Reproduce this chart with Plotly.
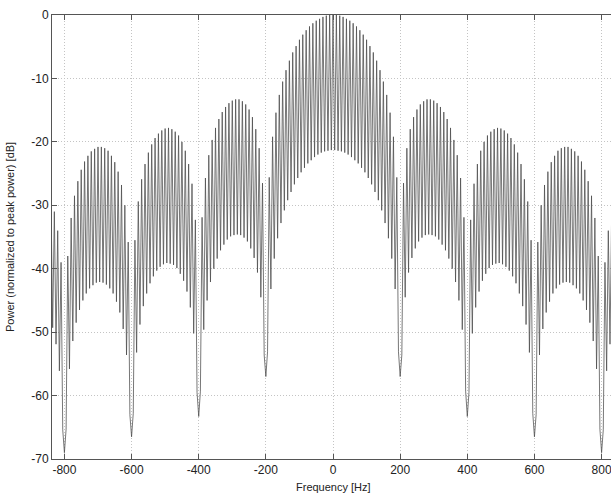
import plotly.graph_objects as go
import pandas as pd

# Peak samples (every 10 Hz, -840 ... 830 Hz), power in dB
peak_db_left = [
    -29.0, -31.0, -34.0, -39.0, -69.0, -38.0, -32.0, -28.5, -26.2, -24.4,
    -23.1, -22.2, -21.5, -21.1, -20.8, -20.8, -21.0, -21.4, -22.2, -23.2,
    -24.7, -26.8, -30.0, -35.8, -66.5, -35.5, -29.4, -25.9, -23.5, -21.7,
    -20.4, -19.4, -18.7, -18.2, -17.9, -17.8, -18.0, -18.4, -19.0, -20.0,
    -21.4, -23.5, -26.6, -32.3, -63.3, -31.9, -25.7, -22.1, -19.7, -17.8,
    -16.4, -15.3, -14.5, -13.9, -13.5, -13.3, -13.3, -13.6, -14.1, -14.9,
    -16.1, -18.0, -21.0, -26.5, -57.0, -25.6, -19.2, -15.4, -12.6, -10.5,
    -8.7, -7.2, -5.9, -4.9, -3.9, -3.1, -2.4, -1.8, -1.3, -0.9,
    -0.6, -0.3, -0.1, -0.0,
]
peak_db_center = [0.0]
peak_db_right = [
    -0.0, -0.1, -0.3, -0.6, -0.9, -1.3, -1.8, -2.4, -3.1, -3.9,
    -4.9, -5.9, -7.2, -8.7, -10.5, -12.6, -15.4, -19.2, -25.6, -57.0,
    -26.5, -21.0, -18.0, -16.1, -14.9, -14.1, -13.6, -13.3, -13.3, -13.5,
    -13.9, -14.5, -15.3, -16.4, -17.8, -19.7, -22.1, -25.7, -31.9, -63.3,
    -32.3, -26.6, -23.5, -21.4, -20.0, -19.0, -18.4, -18.0, -17.8, -17.9,
    -18.2, -18.7, -19.4, -20.4, -21.7, -23.5, -25.9, -29.4, -35.5, -66.5,
    -35.8, -30.0, -26.8, -24.7, -23.2, -22.2, -21.4, -21.0, -20.8, -20.8,
    -21.1, -21.5, -22.2, -23.1, -24.4, -26.2, -28.5, -32.0, -38.0, -69.0,
    -39.0, -34.0, -31.0,
]

# Trough samples (every 10 Hz, -835 ... 825 Hz)
trough_db_left = [
    -49.3, -51.9, -56.1, -65.4, -65.3, -55.8, -51.4, -48.5, -46.5, -45.0,
    -43.9, -43.1, -42.6, -42.2, -42.1, -42.2, -42.5, -43.1, -43.9, -45.2,
    -46.9, -49.5, -53.6, -63.0, -62.8, -53.2, -48.8, -45.9, -43.9, -42.3,
    -41.2, -40.3, -39.7, -39.3, -39.1, -39.2, -39.4, -39.9, -40.8, -41.9,
    -43.6, -46.1, -50.2, -59.5, -59.3, -49.6, -45.0, -42.1, -40.0, -38.4,
    -37.1, -36.2, -35.4, -34.9, -34.7, -34.6, -34.7, -35.1, -35.7, -36.8,
    -38.3, -40.6, -44.5, -53.6, -53.1, -43.2, -38.4, -35.2, -32.8, -30.8,
    -29.2, -27.9, -26.7, -25.7, -24.8, -24.1, -23.4, -22.9, -22.4, -22.0,
    -21.7, -21.5, -21.4, -21.3,
]
trough_db_right = [
    -21.3, -21.4, -21.5, -21.7, -22.0, -22.4, -22.9, -23.4, -24.1, -24.8,
    -25.7, -26.7, -27.9, -29.2, -30.8, -32.8, -35.2, -38.4, -43.2, -53.1,
    -53.6, -44.5, -40.6, -38.3, -36.8, -35.7, -35.1, -34.7, -34.6, -34.7,
    -34.9, -35.4, -36.2, -37.1, -38.4, -40.0, -42.1, -45.0, -49.6, -59.3,
    -59.5, -50.2, -46.1, -43.6, -41.9, -40.8, -39.9, -39.4, -39.2, -39.1,
    -39.3, -39.7, -40.3, -41.2, -42.3, -43.9, -45.9, -48.8, -53.2, -62.8,
    -63.0, -53.6, -49.5, -46.9, -45.2, -43.9, -43.1, -42.5, -42.2, -42.1,
    -42.2, -42.6, -43.1, -43.9, -45.0, -46.5, -48.5, -51.4, -55.8, -65.3,
    -65.4, -56.1, -51.9,
]

peak_hz = list(range(-840, 831, 10))
trough_hz = list(range(-835, 826, 10))

x_ticks = [-800, -600, -400, -200, 0, 200, 400, 600, 800]
y_ticks = [0, -10, -20, -30, -40, -50, -60, -70]

peak_db = peak_db_left + peak_db_center + peak_db_right
trough_db = trough_db_left + trough_db_right

df = pd.concat([
    pd.DataFrame({"f": peak_hz, "p": peak_db}),
    pd.DataFrame({"f": trough_hz, "p": trough_db}),
]).sort_values("f")

fig = go.Figure()
fig.add_trace(go.Scatter(
    x=df["f"], y=df["p"], mode="lines",
    line=dict(color="#4a4a4a", width=0.75),
    showlegend=False, hoverinfo="skip",
))

axis_common = dict(
    showline=True, linecolor="#555555", linewidth=1,
    ticks="inside", ticklen=5, tickcolor="#555555",
    showgrid=True, gridcolor="#c4c4c4", griddash="1px,2px", gridwidth=1,
    zeroline=False, ticklabeloverflow="allow",
    tickfont=dict(family="Liberation Sans, Arial, sans-serif", size=12, color="#222222"),
)

fig.update_layout(
    width=611, height=499,
    margin=dict(l=52, r=0, t=15, b=40),
    paper_bgcolor="white", plot_bgcolor="white",
    font=dict(family="Liberation Sans, Arial, sans-serif", size=11, color="#222222"),
    xaxis=dict(range=[-837, 828], tickvals=x_ticks, ticktext=[str(v) for v in x_ticks],
               mirror="ticks", **axis_common),
    yaxis=dict(range=[-70, 0], tickvals=y_ticks, ticktext=[str(v) for v in y_ticks],
               mirror=False, **axis_common),
    annotations=[
        dict(text="Frequency [Hz]", xref="paper", yref="paper", x=0.5027, y=0,
             xanchor="center", yanchor="middle", yshift=-28, showarrow=False,
             font=dict(size=11)),
        dict(text="Power (normalized to peak power) [dB]", xref="paper", yref="paper",
             x=0, y=0.5, xanchor="center", yanchor="middle", xshift=-42,
             textangle=-90, showarrow=False, font=dict(size=11)),
    ],
)

fig.write_html("out.html")
